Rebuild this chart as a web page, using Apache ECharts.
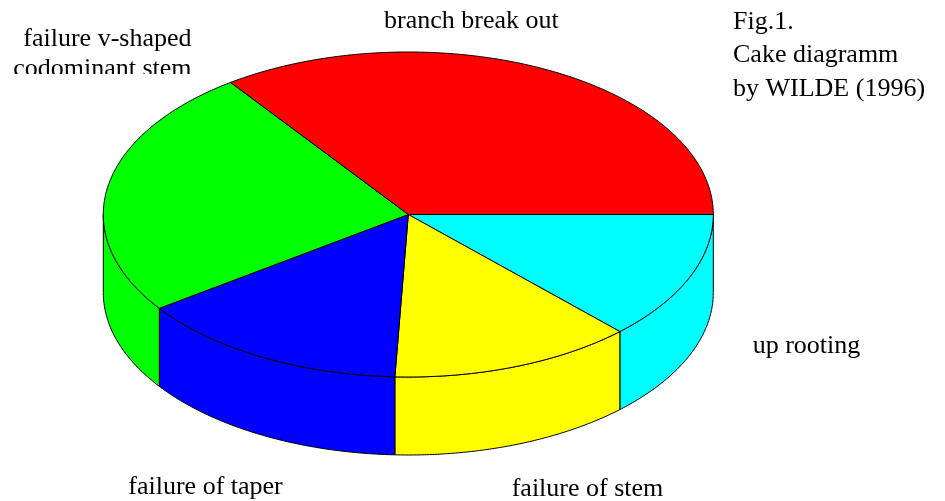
<!DOCTYPE html>
<html><head><meta charset="utf-8">
<script src="https://cdn.jsdelivr.net/npm/echarts@6/dist/echarts.min.js"></script>
<style>html,body{margin:0;padding:0;background:#fff}#c{width:945px;height:501px}</style>
</head><body><div id="c"></div>
<script>
// ---- data ----
const categories = ['up rooting', 'failure of stem', 'failure of taper', 'failure v-shaped\ncodominant stem', 'branch break out'];
const values = [12.8, 12.9, 14.5, 24.9, 34.9];
const sliceColors = ['#00ffff', '#ffff00', '#0000ff', '#00ff00', '#ff0000'];
const titleLines = ['Fig.1.', 'Cake diagramm', 'by WILDE (1996)'];

// ---- layout ----
const CX = 408.3, CY = 214.5, RX = 305, RY = 162.5, DEPTH = 78;
const FONT_FAMILY = 'Liberation Serif';
const FONT_SIZE = 26;
const MID = 6; // baseline -> middle offset
const labelLayout = [
  { x: 752.7, y: 351.7, align: 'left', gap: 0 },
  { x: 511.7, y: 495, align: 'left', gap: 0 },
  { x: 128.3, y: 493.3, align: 'left', gap: 0 },
  { x: 191.5, y: 45.5, align: 'right', gap: 29.5 },
  { x: 471.4, y: 27, align: 'center', gap: 0 }
];
const titleLayout = { x: 733, y: 28, gap: 33.5 };

const total = values.reduce((a, b) => a + b, 0);

function renderItem(params, api) {
  const i = params.dataIndex;
  let before = 0;
  for (let k = 0; k < i; k++) before += values[k];
  const v = api.value(0);
  const a0 = before / total * 2 * Math.PI;
  const a1 = (before + v) / total * 2 * Math.PI;
  const color = sliceColors[i];
  const pt = (t, dy) => [CX + RX * Math.cos(t), CY + RY * Math.sin(t) + dy];
  const arc = (s, e, dy) => {
    const n = Math.max(2, Math.ceil((e - s) / (Math.PI / 360)));
    const out = [];
    for (let j = 0; j <= n; j++) out.push(pt(s + (e - s) * j / n, dy));
    return out;
  };
  const children = [];
  const lo = Math.max(a0, 0), hi = Math.min(a1, Math.PI);
  if (hi > lo) {
    const pts = arc(lo, hi, 0).concat(arc(lo, hi, DEPTH).reverse());
    children.push({ type: 'polygon', shape: { points: pts }, z2: 1,
      style: { fill: color, stroke: '#000', lineWidth: 1 } });
  }
  children.push({ type: 'polygon', shape: { points: [[CX, CY]].concat(arc(a0, a1, 0)) }, z2: 10,
    style: { fill: color, stroke: '#000', lineWidth: 1 } });
  return { type: 'group', children: children };
}

function textEl(line, x, y, align) {
  return { type: 'text', x: x, y: y - MID, z: 5,
    style: { text: line, fontFamily: FONT_FAMILY, fontSize: FONT_SIZE, fontWeight: 'normal',
      fill: '#000', textAlign: align, textVerticalAlign: 'middle' } };
}

const graphics = [];
categories.forEach((name, i) => {
  const L = labelLayout[i];
  name.split('\n').forEach((line, k) => {
    graphics.push(textEl(line, L.x, L.y + k * L.gap, L.align));
  });
});
titleLines.forEach((line, k) => {
  graphics.push(textEl(line, titleLayout.x, titleLayout.y + k * titleLayout.gap, 'left'));
});
// clipped bottom edge of the second label line, as in the original
graphics.push({ type: 'rect', z: 6, shape: { x: 0, y: 74, width: 200, height: 8 }, style: { fill: '#fff' } });

const chart = echarts.init(document.getElementById('c'));
chart.setOption({
  animation: false,
  backgroundColor: '#fff',
  graphic: graphics,
  series: [{
    type: 'custom',
    coordinateSystem: 'none',
    renderItem: renderItem,
    data: values.map((v, i) => ({ value: [v], name: categories[i] }))
  }]
});
</script>
</body></html>
